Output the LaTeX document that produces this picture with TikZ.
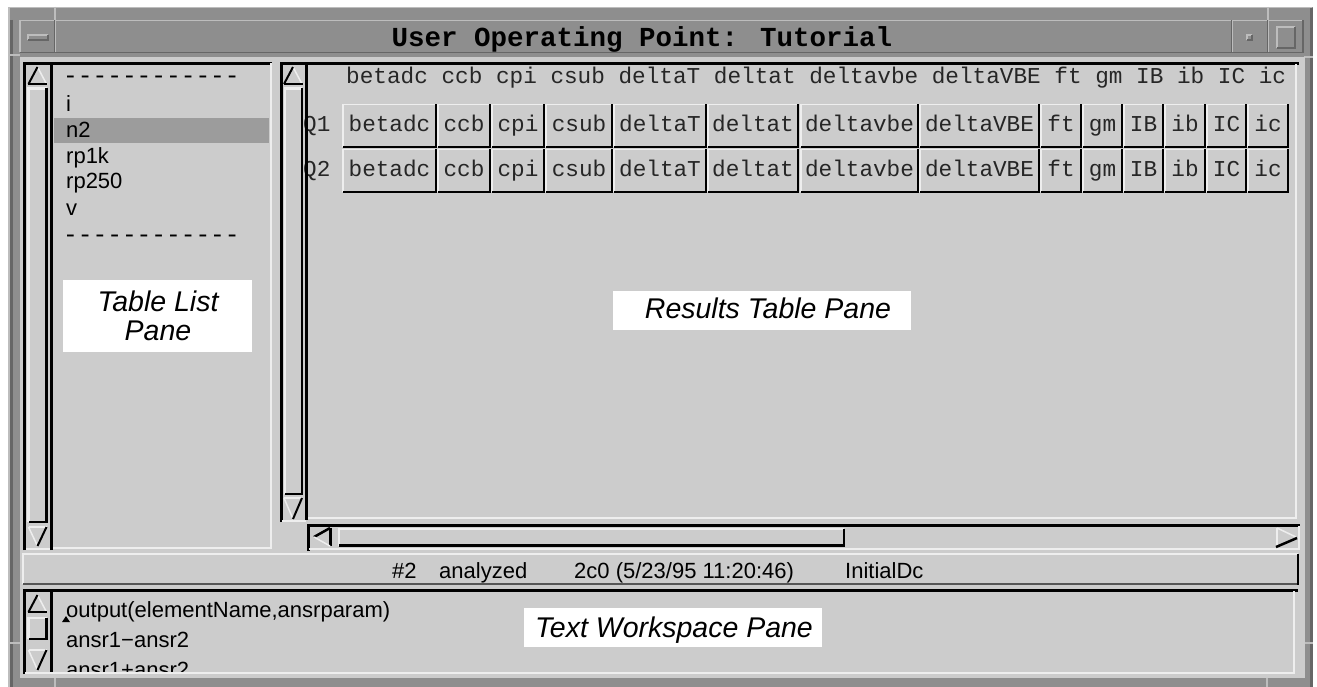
\documentclass[tikz,border=0pt]{standalone}
\usepackage{fontspec}
\newfontfamily\monof{Liberation Mono}
\newfontfamily\sansf{Liberation Sans}
\definecolor{bg}{HTML}{CCCCCC}
\definecolor{frm}{HTML}{8E8E8E}
\definecolor{frmdark}{HTML}{666666}
\definecolor{frmlight}{HTML}{BDBDBD}
\definecolor{lite}{HTML}{EEEEEE}
\definecolor{selc}{HTML}{9C9C9C}
\definecolor{sbot}{HTML}{555555}
\newcommand{\bevelbox}[7]{%
  \draw[#5,line width=#7] (#1,#4)--(#1,#2)--(#3,#2);
  \draw[#6,line width=#7] (#3,#2)--(#3,#4)--(#1,#4);}
\newcommand{\arrUp}[3]{%
  \draw[lite,line width=1.5] (#1,#2)--(#1+9,#3);
  \draw[black,line width=2] (#1-9,#3)--(#1,#2);
  \draw[black,line width=2.5] (#1-9.5,#3)--(#1+9.5,#3);}
\newcommand{\arrDown}[3]{%
  \draw[lite,line width=1.5] (#1-9,#2)--(#1+9,#2);
  \draw[lite,line width=1.5] (#1-9,#2)--(#1,#3);
  \draw[black,line width=2] (#1+9,#2)--(#1,#3);}
\tikzset{
  mono/.style={font=\monof\fontsize{22.7}{24}\selectfont, inner sep=0pt, text=black!85},
  sansl/.style={font=\sansf\fontsize{22}{24}\selectfont, inner sep=0pt},
  annot/.style={font=\sansf\itshape\fontsize{28.5}{29}\selectfont, inner sep=0pt},
  titletext/.style={font=\monof\bfseries\fontsize{27.5}{30}\selectfont, inner sep=0pt},
  dashtext/.style={font=\monof\fontsize{24.5}{26}\selectfont, inner sep=0pt},
  annbox/.style={fill=white},
}
\begin{document}
\begin{tikzpicture}[x=1pt,y=-1pt]
\useasboundingbox (0,0) rectangle (1317,687);
\clip (0,0) rectangle (1317,687);
\fill[white] (0,0) rectangle (1317,687);
% ---------- window frame
\fill[frm] (8,7) rectangle (1313,695);
\draw[frmlight,line width=1.5] (8.75,695)--(8.75,7.75)--(1312.25,7.75);
\draw[frmdark,line width=3] (1311.5,8)--(1311.5,695);
\draw[frmdark,line width=3] (11.5,20)--(11.5,695);
\foreach \a/\b/\c/\d in {55/7/55/20, 1268/7/1268/20, 8/55/20/55, 1304/57/1313/57,
   8/643/20/643, 1304/643/1313/643, 55/678/55/687, 1267/678/1267/687}
  \draw[frmlight,line width=1.2] (\a,\b)--(\c,\d);
% ---------- title bar
\fill[frm] (20,20) rectangle (1303,53);
\bevelbox{20}{20.5}{55}{52.5}{frmlight}{frmdark}{1.5}
\bevelbox{55.5}{20.5}{1232}{52.5}{frmlight}{frmdark}{1.5}
\bevelbox{1232.5}{20.5}{1268}{52.5}{frmlight}{frmdark}{1.5}
\bevelbox{1268.5}{20.5}{1303}{52.5}{frmlight}{frmdark}{1.5}
\bevelbox{28}{35}{48}{40}{frmlight}{frmdark}{1.5}
\bevelbox{1247}{35}{1252}{40}{frmlight}{frmdark}{1.2}
\bevelbox{1277}{27}{1295}{48}{frmlight}{frmdark}{1.5}
\node[titletext,anchor=base] (title) at (642,47) {User Operating Point: Tutorial};
% ---------- content background
\fill[bg] (20,57) rectangle (1305,678);
% ---------- left list pane
\fill[selc] (54,118) rectangle (269,143);
\node[dashtext,anchor=base west] (dash1) at (63,84) {------------};
\node[sansl,anchor=base west] (li1) at (66,112) {i};
\node[sansl,anchor=base west] (li2) at (66,138) {n2};
\node[sansl,anchor=base west] (li3) at (66,163.5) {rp1k};
\node[sansl,anchor=base west] (li4) at (66,189) {rp250};
\node[sansl,anchor=base west] (li5) at (66,215) {v};
\node[dashtext,anchor=base west] (dash2) at (63,242) {------------};
\draw[black,line width=3] (24.5,550)--(24.5,63.5)--(52,63.5);
\draw[black,line width=3] (51.5,550)--(51.5,63.5)--(272,63.5);
\draw[lite,line width=2] (271,63)--(271,548)--(53,548);
\draw[lite,line width=2] (26,549)--(50,549);
\arrUp{37.5}{67}{84}
\bevelbox{28.5}{88.5}{46.5}{522}{lite}{black}{2.5}
\arrDown{37.5}{527}{546}
% ---------- results pane
\node[mono,anchor=base west] (hdr) at (346,84)
  {betadc ccb cpi csub deltaT deltat deltavbe deltaVBE ft gm IB ib IC ic};
\node[mono,anchor=base west] (q1) at (303,132) {Q1};
\node[mono,anchor=base west] (q2) at (303,177) {Q2};
\foreach \l/\r/\t [count=\i] in {343/436/betadc, 438/490/ccb, 492/544/cpi, 546/612/csub,
   614/706/deltaT, 708/798/deltat, 801/918/deltavbe, 920/1039/deltaVBE, 1041/1081/ft,
   1083/1122/gm, 1124/1163/IB, 1165/1205/ib, 1207/1246/IC, 1248/1288/ic}{
  \foreach \ya/\yb/\yc/\q in {104.5/147/132/1, 149.5/192/177/2}{
    \bevelbox{\l}{\ya}{\r}{\yb}{lite}{black}{1.6}
    \node[mono,anchor=base] (r\q c\i) at ({(\l+\r)/2},\yc) {\t};
  }
}
\draw[black,line width=3] (281.5,522)--(281.5,63.5)--(308,63.5);
\draw[lite,line width=2] (282,521)--(306,521);
\draw[black,line width=3] (306.5,520)--(306.5,63.5)--(1299,63.5);
\draw[lite,line width=2] (1296,64)--(1296,518)--(308,518);
\arrUp{293}{67}{84}
\bevelbox{285}{88.5}{302}{494}{lite}{black}{2.5}
\arrDown{293}{498}{519}
% horizontal scrollbar
\draw[black,line width=3] (308.5,551)--(308.5,525.5)--(1300,525.5);
\draw[lite,line width=2] (1298.5,526)--(1298.5,549)--(309,549);
\draw[black,line width=2.5] (314,537)--(330,528);
\draw[black,line width=2.5] (330.5,528)--(330.5,546);
\draw[lite,line width=1.5] (314,537)--(330,546);
\bevelbox{339}{529}{844}{545.5}{lite}{black}{2.5}
\draw[lite,line width=1.5] (1277,528)--(1277,546);
\draw[lite,line width=1.5] (1277,528)--(1296,537);
\draw[black,line width=2.5] (1276,547)--(1297,538);
% ---------- status bar
\bevelbox{23}{554}{1298}{584}{lite}{black}{2}
\draw[sbot,line width=2] (23,584)--(1297,584);
\node[sansl,anchor=base west] (s1) at (392,578) {\#2};
\node[sansl,anchor=base west] (s2) at (439,578) {analyzed};
\node[sansl,anchor=base west] (s3) at (574,578) {2c0 (5/23/95 11:20:46)};
\node[sansl,anchor=base west] (s4) at (845,578) {InitialDc};
% ---------- text workspace
\begin{scope}
\clip (53,592) rectangle (1294,672);
\node[sansl,anchor=base west] (w1) at (66,617) {output(elementName,ansrparam)};
\node[sansl,anchor=base west] (w2) at (66,647) {ansr1−ansr2};
\node[sansl,anchor=base west] (w3) at (66,677) {ansr1+ansr2};
\end{scope}
\fill[black] (62,622) -- (66,616) -- (70,622) -- cycle;
\draw[black,line width=3] (24.5,674)--(24.5,590.5)--(1298,590.5);
\draw[black,line width=3] (51.5,674)--(51.5,590.5);
\draw[lite,line width=2] (1294,591)--(1294,673)--(25,673);
\arrUp{37.5}{595}{612}
\bevelbox{28.5}{618}{46.5}{639}{lite}{black}{2.5}
\arrDown{37.5}{650}{670}
% ---------- annotation labels
\fill[annbox] (63,280) rectangle (252,352);
\node[annot,align=center] (tlp) at (158,316) {Table List\\Pane};
\fill[annbox] (613,291) rectangle (911,330);
\node[annot,anchor=base] (rtp) at (768,318) {Results Table Pane};
\fill[annbox] (524,608) rectangle (822,647);
\node[annot,anchor=base] (twp) at (674,637) {Text Workspace Pane};
\end{tikzpicture}
\end{document}
